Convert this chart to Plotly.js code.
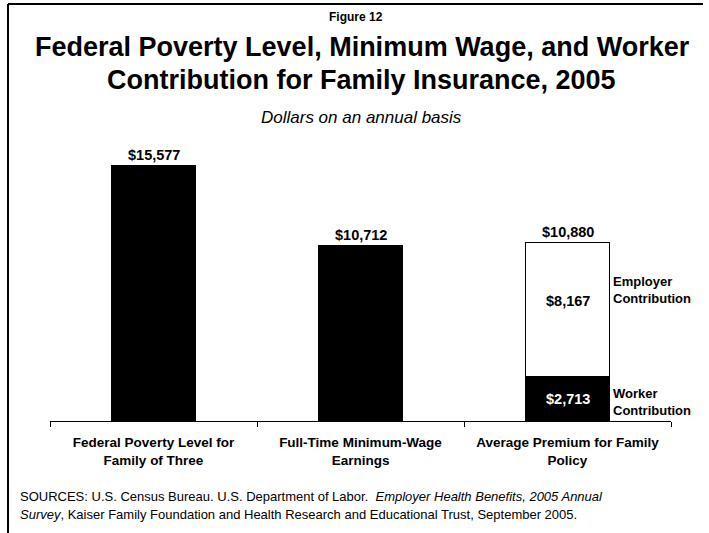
<!DOCTYPE html>
<html>
<head>
<meta charset="utf-8">
<script src="https://cdn.plot.ly/plotly-3.0.1.min.js"></script>
<style>html,body{margin:0;padding:0;background:#fff;overflow:hidden;}#chart{width:709px;height:533px;}</style>
</head>
<body>
<div id="chart"></div>
<script>
// ---- data ----
var categories = ["Federal Poverty Level for<br>Family of Three", "Full-Time Minimum-Wage<br>Earnings", "Average Premium for Family<br>Policy"];
var blackValues = [15577, 10712, 2713];     // poverty level, min wage, worker contribution
var employerCategory = [categories[2]];
var employerValues = [8167];
var totalValues = [15577, 10712, 10880];
var totalLabels = ["$15,577", "$10,712", "$10,880"];
var workerLabel = "$2,713";
var employerLabel = "$8,167";

var FONT = "Arial, 'Liberation Sans', sans-serif";

var traces = [
  {type: "bar", x: categories, y: blackValues, marker: {color: "#000", line: {color: "#000", width: 1}}, hoverinfo: "none"},
  {type: "bar", x: employerCategory, y: employerValues, marker: {color: "#fff", line: {color: "#000", width: 1}}, hoverinfo: "none"}
];

function px2x(px){ return (px - 50) / 621; }
function py2y(py){ return (421 - py) / 296; }

var annotations = [];
// totals above bars
for (var i = 0; i < categories.length; i++) {
  annotations.push({x: categories[i], y: totalValues[i], xref: "x", yref: "y", text: "<b>" + totalLabels[i] + "</b>",
    showarrow: false, yanchor: "bottom", yshift: 0, font: {family: FONT, size: 14.5, color: "#000"}});
}
annotations.push({x: categories[2], y: blackValues[2] + employerValues[0] / 2, xref: "x", yref: "y", text: "<b>" + employerLabel + "</b>",
  showarrow: false, yanchor: "middle", yshift: 8, font: {family: FONT, size: 14.5, color: "#000"}});
annotations.push({x: categories[2], y: blackValues[2] / 2, xref: "x", yref: "y", text: "<b>" + workerLabel + "</b>",
  showarrow: false, yanchor: "middle", font: {family: FONT, size: 14.5, color: "#fff"}});
annotations.push({x: categories[2], y: blackValues[2] + employerValues[0] / 2, xref: "x", yref: "y", text: "<b>Employer<br>Contribution</b>",
  showarrow: false, xanchor: "left", yanchor: "middle", align: "left", xshift: 43, yshift: 19, font: {family: FONT, size: 13, color: "#000"}});
annotations.push({x: categories[2], y: blackValues[2] / 2, xref: "x", yref: "y", text: "<b>Worker<br>Contribution</b>",
  showarrow: false, xanchor: "left", yanchor: "middle", align: "left", xshift: 43, yshift: -3, font: {family: FONT, size: 13, color: "#000"}});

// titles
annotations.push({x: px2x(356), y: py2y(17), xref: "paper", yref: "paper", yanchor: "middle", text: "<b>Figure 12</b>", showarrow: false,
  font: {family: FONT, size: 12, color: "#000"}});
annotations.push({x: px2x(362), y: py2y(47), xref: "paper", yref: "paper", yanchor: "middle", text: "<b>Federal Poverty Level, Minimum Wage, and Worker</b>", showarrow: false,
  font: {family: FONT, size: 27, color: "#000"}});
annotations.push({x: px2x(361), y: py2y(80), xref: "paper", yref: "paper", yanchor: "middle", text: "<b>Contribution for Family Insurance, 2005</b>", showarrow: false,
  font: {family: FONT, size: 27, color: "#000"}});
annotations.push({x: px2x(361), y: py2y(117), xref: "paper", yref: "paper", yanchor: "middle", text: "<i>Dollars on an annual basis</i>", showarrow: false,
  font: {family: FONT, size: 17, color: "#000"}});
// sources
annotations.push({x: px2x(18), y: py2y(496), xref: "paper", yref: "paper", xanchor: "left", yanchor: "middle", align: "left",
  text: "SOURCES: U.S. Census Bureau. U.S. Department of Labor.  <i>Employer Health Benefits, 2005 Annual</i>", showarrow: false,
  font: {family: FONT, size: 13, color: "#000"}});
annotations.push({x: px2x(18), y: py2y(514), xref: "paper", yref: "paper", xanchor: "left", yanchor: "middle", align: "left",
  text: "<i>Survey</i>, Kaiser Family Foundation and Health Research and Educational Trust, September 2005.", showarrow: false,
  font: {family: FONT, size: 13, color: "#000"}});

var layout = {
  width: 709, height: 533,
  margin: {l: 50, r: 38, t: 125, b: 112, pad: 0, autoexpand: false},
  paper_bgcolor: "#fff", plot_bgcolor: "#fff",
  barmode: "stack", bargap: 0.595,
  showlegend: false,
  xaxis: {type: "category", range: [-0.5, 2.5], autorange: false, showline: true, linecolor: "#000", linewidth: 1, ticks: "outside", tickson: "boundaries",
    ticklen: 5, tickcolor: "#000", tickwidth: 1, showgrid: false, zeroline: false, automargin: false, ticklabelstandoff: 9,
    tickfont: {family: FONT, size: 13.5, color: "#000", weight: "bold"}},
  yaxis: {range: [0, 18016], autorange: false, visible: false, showgrid: false, zeroline: false, automargin: false},
  annotations: annotations,
  shapes: [
    {type: "line", xref: "paper", yref: "paper", x0: px2x(8), x1: px2x(703), y0: py2y(4), y1: py2y(4), line: {color: "#000", width: 2}},
    {type: "line", xref: "paper", yref: "paper", x0: px2x(8), x1: px2x(8), y0: py2y(4), y1: py2y(540), line: {color: "#000", width: 2}}
  ]
};

Plotly.newPlot("chart", traces, layout, {staticPlot: true, displayModeBar: false});
</script>
</body>
</html>
